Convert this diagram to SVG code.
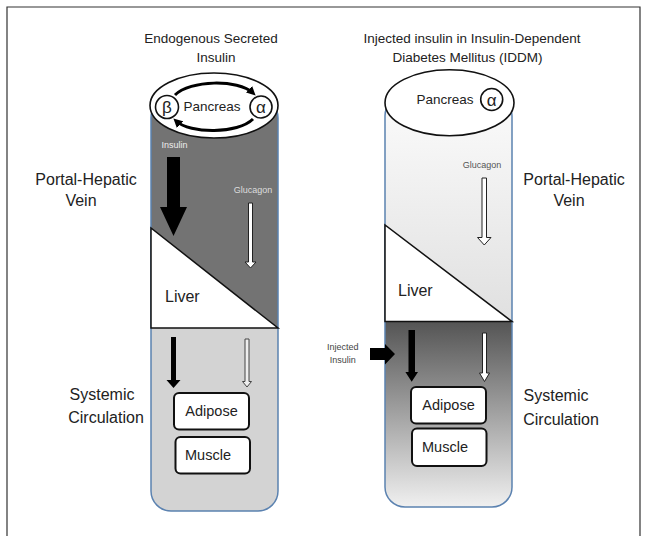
<svg xmlns="http://www.w3.org/2000/svg" width="646" height="536" viewBox="0 0 646 536">
<style>
text{font-family:"Liberation Sans",Arial,sans-serif;fill:#222}
.t{font-size:13.5px;text-anchor:middle}
.side{font-size:16px;text-anchor:middle}
.sm{font-size:9px;text-anchor:middle}
.box{fill:#fff;stroke:#111;stroke-width:2}
.boxt{font-size:14.5px;text-anchor:middle}
.tube{fill:none;stroke:#5b82b0;stroke-width:1.5}
.liver{fill:#fff;stroke:#111;stroke-width:1.5;stroke-linejoin:miter}
.ell{fill:#fff;stroke:#111;stroke-width:1.6}
.circ{fill:#fff;stroke:#111;stroke-width:1.6}
.greek{font-size:17px;text-anchor:middle}
.solid{fill:#000}
.hollow{fill:#fff;stroke:#222;stroke-width:1}
.loop{fill:none;stroke:#000;stroke-width:3;marker-end:url(#ah)}
</style>
<defs>
<marker id="ah" viewBox="0 0 10 10" refX="6" refY="5" markerWidth="3" markerHeight="3" orient="auto">
<path d="M0,0 L10,5 L0,10 z" fill="#000"/>
</marker>
<linearGradient id="gUp" gradientUnits="userSpaceOnUse" x1="0" y1="96" x2="0" y2="322">
<stop offset="0" stop-color="#fbfbfb"/><stop offset="1" stop-color="#e0e0e0"/>
</linearGradient>
<linearGradient id="gLow" gradientUnits="userSpaceOnUse" x1="0" y1="322" x2="0" y2="507">
<stop offset="0" stop-color="#555"/><stop offset="1" stop-color="#f0f0f0"/>
</linearGradient>
<clipPath id="cL"><rect x="151" y="98" width="127" height="413" rx="20"/></clipPath>
<clipPath id="cR"><rect x="385" y="96" width="127" height="411" rx="20"/></clipPath>
</defs>

<path d="M7,536 V7 H640 V536" fill="none" stroke="#333" stroke-width="1.2"/>

<g id="left-panel">
<text class="t" x="211" y="43">Endogenous Secreted</text>
<text class="t" x="216" y="62">Insulin</text>
<g id="left-vessel">
<g clip-path="url(#cL)">
<rect x="151" y="98" width="127" height="230" fill="#737373"/>
<rect x="151" y="328" width="127" height="183" fill="#d3d3d3"/>
</g>
<rect class="tube" x="151" y="98" width="127" height="413" rx="20"/>
</g>
<g id="left-liver">
<polygon class="liver" points="151,228 151,328 278,328"/>
<text x="165" y="302" style="font-size:16px">Liver</text>
</g>
<g id="left-pancreas">
<ellipse class="ell" cx="214" cy="105.5" rx="64" ry="32.5"/>
<circle class="circ" cx="167" cy="107" r="11.5"/>
<text class="greek" x="167" y="113">β</text>
<circle class="circ" cx="261" cy="107" r="11"/>
<text class="greek" x="261" y="113">α</text>
<text class="t" x="212" y="111">Pancreas</text>
</g>
<g id="left-adipose">
<rect class="box" x="174" y="393" width="75" height="36.5" rx="5"/>
<text class="boxt" x="211.5" y="416">Adipose</text>
</g>
<g id="left-muscle">
<rect class="box" x="175.5" y="437" width="74.5" height="36.5" rx="5"/>
<text class="boxt" x="208" y="460">Muscle</text>
</g>
<text class="side" x="86" y="185">Portal-Hepatic</text>
<text class="side" x="81" y="206">Vein</text>
<text class="side" x="102" y="400">Systemic</text>
<text class="side" x="106" y="423">Circulation</text>
<text class="sm" x="174.5" y="148" style="fill:#eee">Insulin</text>
<text class="sm" x="253" y="193" style="fill:#ddd">Glucagon</text>
</g>

<g id="right-panel">
<text class="t" x="472" y="43">Injected insulin in Insulin-Dependent</text>
<text class="t" x="467.5" y="62">Diabetes Mellitus (IDDM)</text>
<g id="right-vessel">
<g clip-path="url(#cR)">
<rect x="385" y="96" width="127" height="226" fill="url(#gUp)"/>
<rect x="385" y="321.5" width="127" height="186" fill="url(#gLow)"/>
</g>
<rect class="tube" x="385" y="96" width="127" height="411" rx="20"/>
</g>
<g id="right-liver">
<polygon class="liver" points="385,225 385,321.5 512,321.5"/>
<text x="398" y="296" style="font-size:16px">Liver</text>
</g>
<g id="right-pancreas">
<ellipse class="ell" cx="449.5" cy="102.7" rx="64.5" ry="33"/>
<circle class="circ" cx="491.7" cy="99.5" r="11"/>
<text class="greek" x="491.7" y="105.5">α</text>
<text class="t" x="445" y="104">Pancreas</text>
</g>
<g id="right-adipose">
<rect class="box" x="411" y="387" width="75" height="36.5" rx="5"/>
<text class="boxt" x="448.5" y="410">Adipose</text>
</g>
<g id="right-muscle">
<rect class="box" x="412" y="428.5" width="74.5" height="37.5" rx="5"/>
<text class="boxt" x="445" y="452">Muscle</text>
</g>
<text class="side" x="574" y="185">Portal-Hepatic</text>
<text class="side" x="569" y="206">Vein</text>
<text class="side" x="556" y="401">Systemic</text>
<text class="side" x="561" y="425">Circulation</text>
<text class="sm" x="482" y="168" style="fill:#555">Glucagon</text>
<text class="sm" x="342.7" y="350" style="fill:#444">Injected</text>
<text class="sm" x="342.7" y="363" style="fill:#444">Insulin</text>
</g>

<g id="connectors">
<path class="loop" d="M175,95 C190,80 238,79 253,93"/>
<path class="loop" d="M253,119 C238,134 190,134 176,121"/>
<polygon class="solid" points="167,157 180,157 180,207 187,207 173.5,236 160,207 167,207"/>
<polygon class="hollow" points="248.5,203 252.5,203 252.5,262 256,262 250.5,268 245,262 248.5,262"/>
<polygon class="solid" points="171,337 176,337 176,380 180.5,380 173.5,388 166.5,380 171,380"/>
<polygon class="hollow" points="245,339 249,339 249,381.5 251.5,381.5 247,387 242.5,381.5 245,381.5" style="fill:#eee;stroke:#444"/>
<polygon class="hollow" points="482,178 486.5,178 486.5,237.5 491,237.5 484.25,245 477.5,237.5 482,237.5"/>
<polygon class="hollow" points="482.5,333 486.5,333 486.5,373 489.5,373 484.5,381.5 479.5,373 482.5,373"/>
<polygon class="solid" points="408.5,330 415,330 415,372 418,372 411.7,381.7 405.4,372 408.5,372"/>
<polygon class="solid" points="370,348 385,348 385,344 395,354 385,364.5 385,360 370,360"/>
</g>
</svg>
